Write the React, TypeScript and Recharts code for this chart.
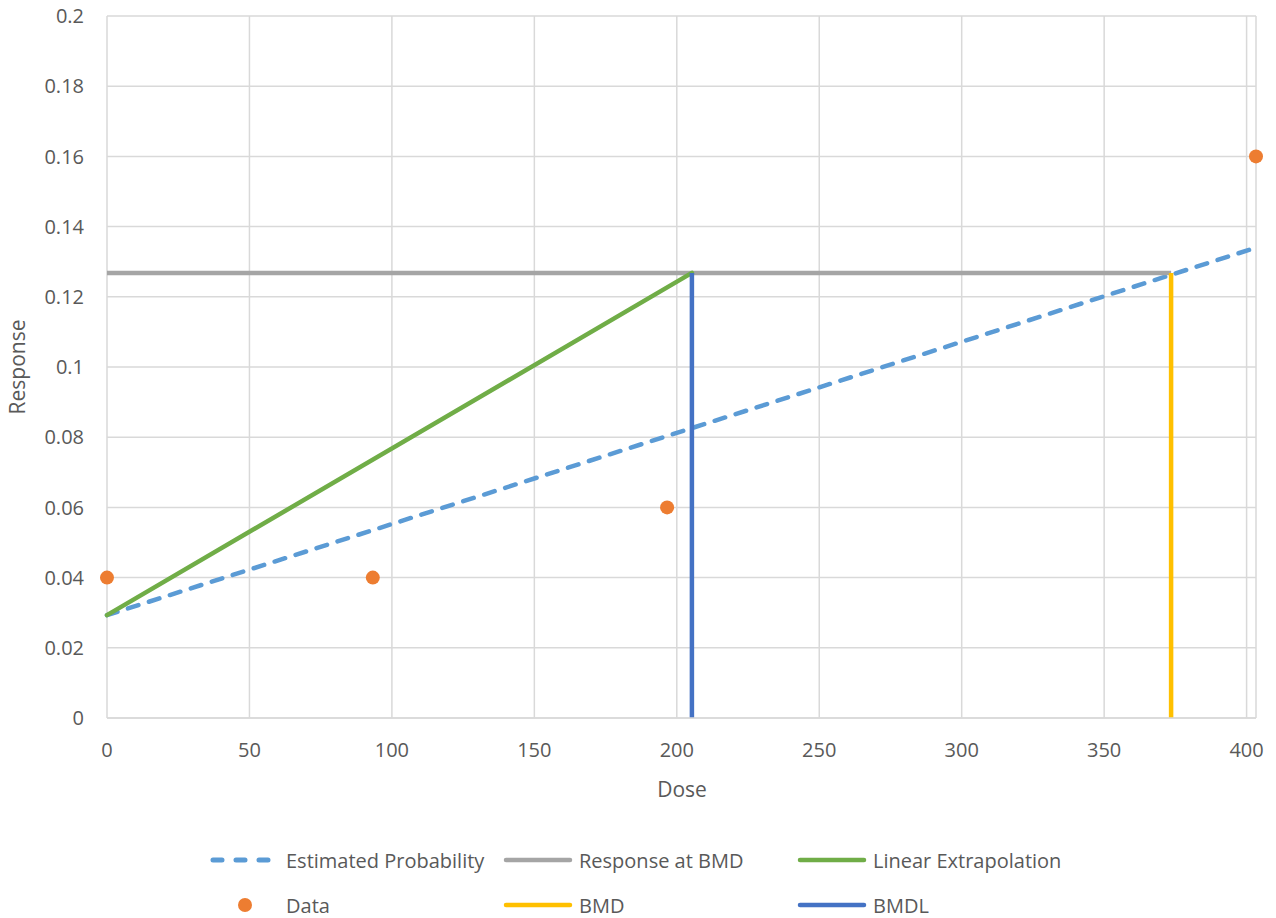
import React from "react";
import { ComposedChart, Line, Scatter, XAxis, YAxis, CartesianGrid } from "recharts";

// dose-response values
const doseTicks = [0, 50, 100, 150, 200, 250, 300, 350, 400];
const responseTicks = [0, 0.02, 0.04, 0.06, 0.08, 0.1, 0.12, 0.14, 0.16, 0.18, 0.2];

const observed = [
  { x: 0, y: 0.04 },
  { x: 93.3, y: 0.04 },
  { x: 196.6, y: 0.06 },
  { x: 403.3, y: 0.16 },
];
const estimatedProbability = [
  { x: 0, y: 0.0293 },
  { x: 403.3, y: 0.134 },
];
const responseAtBmd = [
  { x: 0, y: 0.1268 },
  { x: 373.5, y: 0.1268 },
];
const linearExtrapolation = [
  { x: 0, y: 0.0293 },
  { x: 205.3, y: 0.1268 },
];
const bmd = [
  { x: 373.5, y: 0 },
  { x: 373.5, y: 0.1268 },
];
const bmdl = [
  { x: 205.3, y: 0 },
  { x: 205.3, y: 0.1268 },
];

const FONT = "'Open Sans', sans-serif";
const TEXT = "#595959";
const GRID = "#d9d9d9";

const legendItems = [
  { name: "Estimated Probability", color: "#5B9BD5", kind: "dash", left: 210, top: 860 },
  { name: "Response at BMD", color: "#A5A5A5", kind: "line", left: 503, top: 860 },
  { name: "Linear Extrapolation", color: "#70AD47", kind: "line", left: 797, top: 860 },
  { name: "Data", color: "#ED7D31", kind: "dot", left: 210, top: 905 },
  { name: "BMD", color: "#FFC000", kind: "line", left: 503, top: 905 },
  { name: "BMDL", color: "#4472C4", kind: "line", left: 797, top: 905 },
];

function LegendSymbol({ kind, color }: { kind: string; color: string }) {
  if (kind === "dot") {
    return (
      <svg width={70} height={16}>
        <circle cx={35} cy={8} r={7} fill={color} />
      </svg>
    );
  }
  return (
    <svg width={70} height={16}>
      <line
        x1={3}
        x2={67}
        y1={8}
        y2={8}
        stroke={color}
        strokeWidth={kind === "dash" ? 5 : 4.5}
        strokeLinecap="round"
        strokeDasharray={kind === "dash" ? "9 14" : undefined}
      />
    </svg>
  );
}

export default function App() {
  return (
    <div
      style={{
        position: "relative",
        width: 1276,
        height: 918,
        marginLeft: -8,
        marginTop: -8,
        background: "#fff",
        fontFamily: FONT,
      }}
    >
      <ComposedChart
        width={1276}
        height={918}
        margin={{ top: 16, right: 20, bottom: 110, left: 0 }}
        style={{ fontFamily: FONT }}
      >
        <CartesianGrid stroke={GRID} strokeWidth={1.5} />
        <XAxis
          type="number"
          dataKey="x"
          domain={[0, 403.3]}
          ticks={doseTicks}
          height={90}
          tickSize={0}
          tickMargin={25}
          axisLine={{ stroke: GRID, strokeWidth: 1.5 }}
          tick={{ fill: TEXT, fontSize: 20 }}
          label={{
            content: () => (
              <text x={682} y={797} textAnchor="middle" fill={TEXT} fontSize={21}>
                Dose
              </text>
            ),
          }}
        />
        <YAxis
          type="number"
          dataKey="y"
          domain={[0, 0.2]}
          ticks={responseTicks}
          width={107}
          tickSize={0}
          tickMargin={23}
          axisLine={false}
          tick={{ fill: TEXT, fontSize: 20 }}
          label={{
            content: () => (
              <text x={25} y={367} transform="rotate(-90 25 367)" textAnchor="middle" fill={TEXT} fontSize={21}>
                Response
              </text>
            ),
          }}
        />
        <Line
          data={estimatedProbability}
          dataKey="y"
          stroke="#5B9BD5"
          strokeWidth={4.5}
          strokeDasharray="11 11"
          strokeLinecap="round"
          dot={false}
          isAnimationActive={false}
        />
        <Line data={responseAtBmd} dataKey="y" stroke="#A5A5A5" strokeWidth={4.5} dot={false} isAnimationActive={false} />
        <Line data={linearExtrapolation} dataKey="y" stroke="#70AD47" strokeWidth={4.5} strokeLinecap="round" dot={false} isAnimationActive={false} />
        <Line data={bmd} dataKey="y" stroke="#FFC000" strokeWidth={4.5} dot={false} isAnimationActive={false} />
        <Line data={bmdl} dataKey="y" stroke="#4472C4" strokeWidth={4.5} dot={false} isAnimationActive={false} />
        <Scatter
          data={observed}
          dataKey="y"
          fill="#ED7D31"
          isAnimationActive={false}
          shape={(p: any) => <circle cx={p.cx} cy={p.cy} r={7} fill="#ED7D31" />}
        />
      </ComposedChart>
      {legendItems.map((it) => (
        <div
          key={it.name}
          style={{
            position: "absolute",
            left: it.left,
            top: it.top - 12,
            height: 24,
            display: "flex",
            alignItems: "center",
            gap: 6,
            color: TEXT,
            fontSize: 20,
            whiteSpace: "nowrap",
          }}
        >
          <LegendSymbol kind={it.kind} color={it.color} />
          <span>{it.name}</span>
        </div>
      ))}
    </div>
  );
}
